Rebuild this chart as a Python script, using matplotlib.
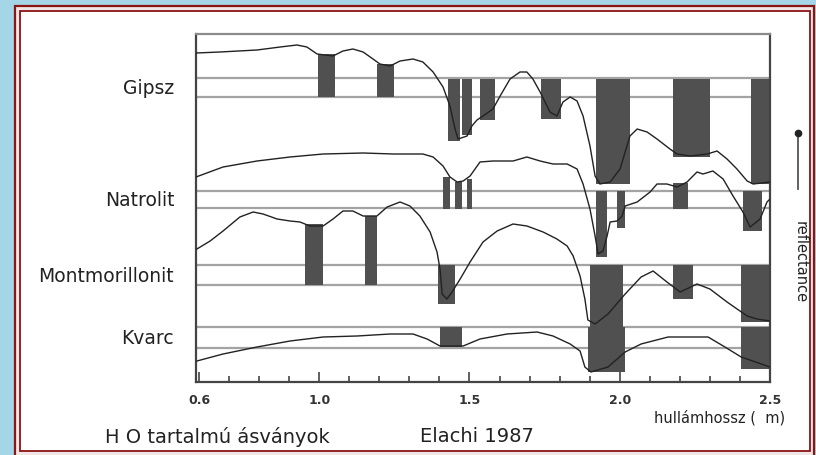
import matplotlib

matplotlib.use("Agg")
import matplotlib.pyplot as plt
from matplotlib.patches import Rectangle
from matplotlib.lines import Line2D
from matplotlib.ticker import MultipleLocator

W, H = 816, 456

BG = "#a5d6e7"
FRAME = "#8b1414"
INK = "#222222"
BAR = "#505050"
REFLINE = "#a3a3a3"

# wavelength (um) / relative reflectance (offset per mineral)
gipsz_wl = [0.590, 0.670, 0.793, 0.870, 0.926, 0.959, 0.993, 1.046, 1.079, 1.112,
            1.146, 1.179, 1.202, 1.236, 1.269, 1.312, 1.345, 1.379, 1.412, 1.435,
            1.452, 1.462, 1.492, 1.508, 1.525, 1.545, 1.578, 1.602, 1.635, 1.668,
            1.691, 1.711, 1.735, 1.768, 1.791, 1.811, 1.835, 1.858, 1.878, 1.901,
            1.918, 1.934, 1.968, 2.001, 2.034, 2.058, 2.091, 2.124, 2.167, 2.191,
            2.234, 2.291, 2.324, 2.357, 2.390, 2.424, 2.444, 2.500]
gipsz_r = [329, 330, 332, 335, 337, 335, 328, 326, 331, 333,
           330, 323, 318, 316, 321, 323, 320, 310, 295, 276,
           253, 243, 246, 256, 262, 266, 273, 286, 303, 310,
           310, 303, 290, 270, 266, 280, 285, 281, 266, 236,
           206, 198, 200, 213, 246, 253, 250, 243, 233, 228,
           226, 228, 231, 223, 213, 201, 198, 200]

natrolit_wl = [0.590, 0.680, 0.793, 0.903, 1.013, 1.146, 1.246, 1.345, 1.379, 1.412,
               1.435, 1.459, 1.479, 1.502, 1.535, 1.578, 1.645, 1.691, 1.735, 1.778,
               1.825, 1.858, 1.878, 1.901, 1.918, 1.928, 1.944, 1.958, 1.968, 1.991,
               2.008, 2.018, 2.058, 2.101, 2.124, 2.157, 2.191, 2.224, 2.257, 2.277,
               2.310, 2.344, 2.377, 2.410, 2.434, 2.467, 2.490, 2.500]
natrolit_r = [205, 215, 221, 225, 228, 229, 228, 228, 225, 216,
              205, 200, 201, 206, 220, 221, 221, 225, 221, 218,
              218, 213, 198, 173, 146, 128, 131, 146, 160, 161,
              166, 176, 180, 190, 198, 198, 195, 200, 210, 208,
              211, 203, 186, 170, 155, 163, 180, 183]

montmor_wl = [0.593, 0.637, 0.680, 0.736, 0.780, 0.813, 0.860, 0.903, 0.936, 0.969,
              1.013, 1.046, 1.079, 1.112, 1.146, 1.192, 1.226, 1.269, 1.302, 1.335,
              1.369, 1.392, 1.402, 1.409, 1.425, 1.442, 1.469, 1.502, 1.545, 1.592,
              1.645, 1.691, 1.745, 1.791, 1.825, 1.845, 1.868, 1.884, 1.894, 1.918,
              1.961, 2.018, 2.071, 2.111, 2.157, 2.201, 2.257, 2.300, 2.357, 2.424,
              2.457, 2.500]
montmor_r = [133, 141, 151, 165, 170, 168, 163, 161, 160, 156,
             156, 163, 171, 171, 166, 166, 175, 180, 176, 166,
             150, 130, 113, 88, 83, 90, 103, 120, 140, 151,
             158, 156, 150, 143, 136, 126, 106, 83, 62, 58,
             68, 88, 105, 111, 100, 90, 98, 93, 80, 66,
             63, 61]

kvarc_wl = [0.593, 0.680, 0.793, 0.903, 1.013, 1.126, 1.236, 1.312, 1.359, 1.402,
            1.479, 1.535, 1.625, 1.725, 1.778, 1.835, 1.868, 1.884, 1.904, 1.961,
            2.018, 2.071, 2.161, 2.294, 2.350, 2.404, 2.500]
kvarc_r = [21, 28, 35, 41, 45, 46, 48, 48, 43, 36,
           36, 43, 48, 50, 46, 38, 31, 15, 10, 15,
           30, 38, 45, 45, 35, 25, 15]

# absorption bands: (start um, end um, low, high)
gipsz_bands = [(0.996, 1.053, 285, 328), (1.192, 1.249, 285, 318),
               (1.429, 1.469, 241, 303), (1.475, 1.508, 247, 303),
               (1.535, 1.585, 262, 303), (1.738, 1.805, 263, 303),
               (1.921, 2.034, 198, 303), (2.177, 2.300, 225, 303),
               (2.437, 2.500, 198, 303)]
natrolit_bands = [(1.412, 1.435, 173, 205), (1.452, 1.475, 173, 200),
                  (1.492, 1.508, 173, 203), (1.921, 1.958, 125, 191),
                  (1.991, 2.018, 154, 191), (2.177, 2.227, 173, 199),
                  (2.410, 2.474, 151, 191)]
montmor_bands = [(0.953, 1.013, 97, 158), (1.152, 1.192, 97, 166),
                 (1.395, 1.452, 78, 117), (1.901, 2.011, 55, 117),
                 (2.177, 2.244, 83, 117), (2.404, 2.500, 60, 117)]
kvarc_bands = [(1.402, 1.475, 35, 55), (1.894, 2.018, 10, 55),
               (2.404, 2.500, 13, 55)]

minerals = ["Gipsz", "Natrolit", "Montmorillonit", "Kvarc"]
ref_levels = [(304, 285), (191, 174), (117, 97), (55, 34)]

tick_major = [0.6, 1.0, 1.5, 2.0, 2.5]
tick_labels = ["0.6", "1.0", "1.5", "2.0", "2.5"]


def fx(px):
    return px / W


def fy(py):
    return 1 - py / H


fig = plt.figure(figsize=(W / 100, H / 100), dpi=100)
fig.patch.set_facecolor(BG)

fig.add_artist(Rectangle((fx(15), fy(458)), fx(814) - fx(15), fy(7) - fy(458),
                         transform=fig.transFigure, facecolor="#f1e6e6",
                         edgecolor=FRAME, linewidth=1.6, zorder=0))
fig.add_artist(Rectangle((fx(20), fy(452)), fx(810) - fx(20), fy(12) - fy(452),
                         transform=fig.transFigure, facecolor="white",
                         edgecolor=FRAME, linewidth=1.3, zorder=0))

ax = fig.add_axes([fx(196), fy(383), fx(770) - fx(196), fy(35) - fy(383)])
ax.set_facecolor("white")
ax.set_xlim(0.59, 2.5)
ax.set_ylim(0, 348)

for lo_hi in ref_levels:
    for lvl in lo_hi:
        ax.axhline(lvl, color=REFLINE, linewidth=1.6, zorder=1)

for bands in [gipsz_bands, natrolit_bands, montmor_bands, kvarc_bands]:
    for x0, x1, lo, hi in bands:
        ax.bar(x0, hi - lo, width=x1 - x0, bottom=lo, align="edge",
               color=BAR, edgecolor="none", zorder=2)

for wl, r in [(gipsz_wl, gipsz_r), (natrolit_wl, natrolit_r),
              (montmor_wl, montmor_r), (kvarc_wl, kvarc_r)]:
    ax.plot(wl, r, color=INK, linewidth=1.0, zorder=3)

for name, (hi, lo) in zip(minerals, ref_levels):
    ax.text(-0.038, (hi + lo) / 2, name, transform=ax.get_yaxis_transform(),
            ha="right", va="center", fontsize=13.5, color=INK)

for side in ["left", "bottom", "right"]:
    ax.spines[side].set_color("#444444")
    ax.spines[side].set_linewidth(1.6)
ax.spines["top"].set_color("#8a8a8a")
ax.spines["top"].set_linewidth(1.6)

ax.set_xticks(tick_major)
ax.set_xticklabels(tick_labels, fontsize=9, fontweight="bold", color="#333333")
ax.xaxis.set_minor_locator(MultipleLocator(0.1))
ax.tick_params(axis="x", which="major", direction="in", length=7, width=1.2,
               color="#444444", pad=8)
ax.tick_params(axis="x", which="minor", direction="in", length=4, width=1.2,
               color="#444444")
ax.set_yticks([])

fig.text(fx(785), fy(418), "hullámhossz (  m)", ha="right", va="center",
         fontsize=10.5, color=INK)
fig.text(fx(105), fy(437), "H O tartalmú ásványok", ha="left", va="center",
         fontsize=14, color=INK)
fig.text(fx(420), fy(437), "Elachi 1987", ha="left", va="center",
         fontsize=14, color=INK)

fig.add_artist(Line2D([fx(798), fx(798)], [fy(190), fy(134)],
                      transform=fig.transFigure, color="#555555", linewidth=1.3))
fig.add_artist(Line2D([fx(798)], [fy(134)], transform=fig.transFigure,
                      marker="o", markersize=4.5, color="#222222"))
fig.text(fx(800), fy(262), "reflectance", rotation=270, ha="center", va="center",
         fontsize=10.5, color=INK)

fig.savefig("out.png", dpi=100, facecolor=fig.get_facecolor())
